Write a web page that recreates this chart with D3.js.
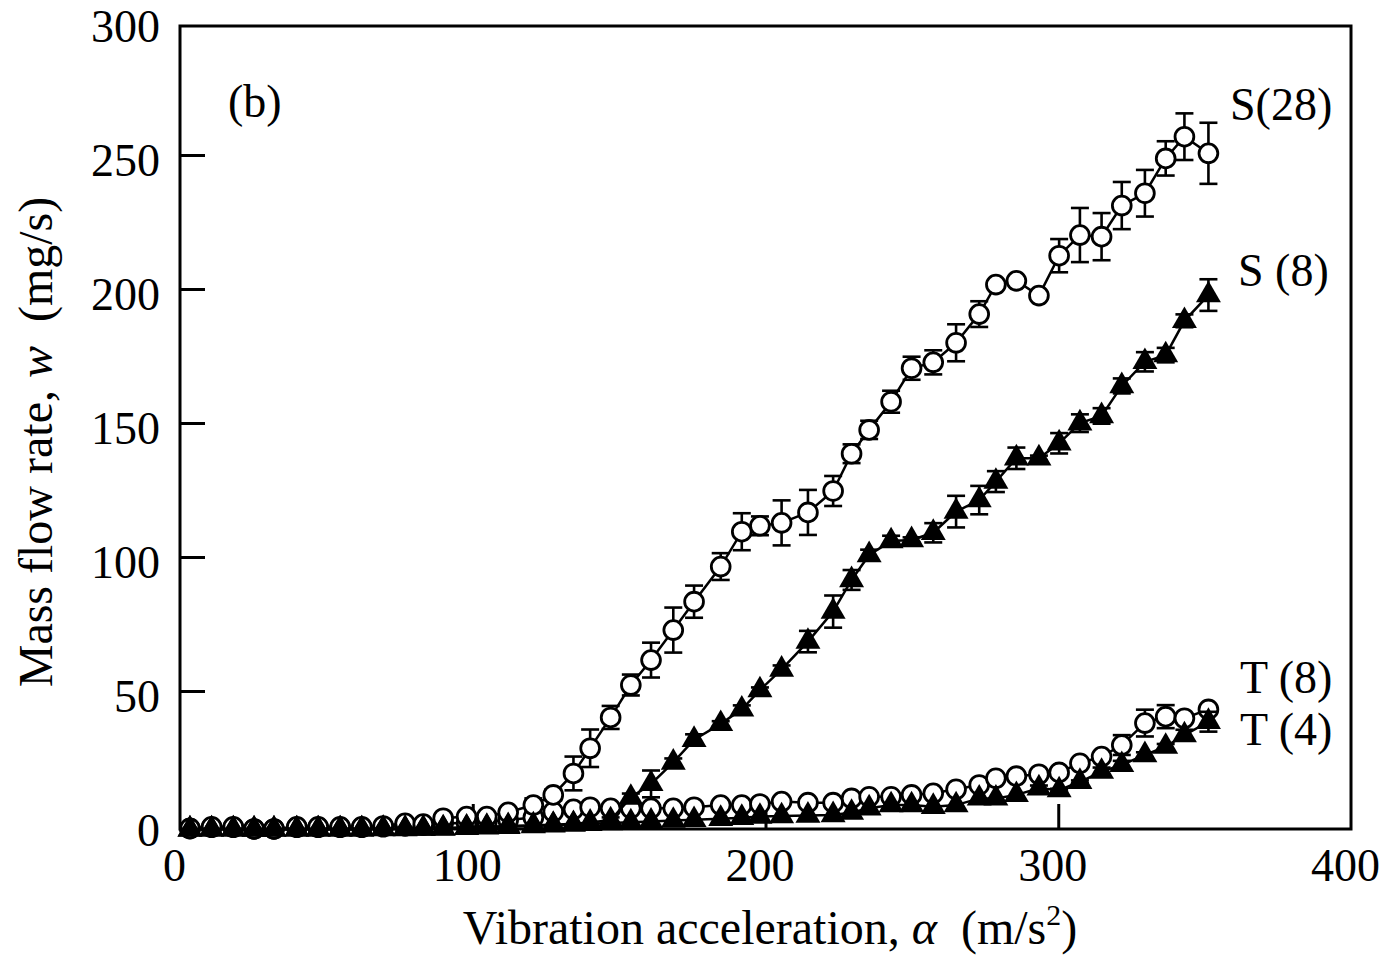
<!DOCTYPE html>
<html><head><meta charset="utf-8">
<script src="https://cdn.jsdelivr.net/npm/d3@7"></script>
<style>body{margin:0;background:#fff}svg text{font-family:"Liberation Serif","Times New Roman",serif;fill:#000}</style>
</head><body><svg id="c" width="1388" height="957"></svg>
<script>
// ---- data ----
const alpha = [3.4,10.8,18.2,25.3,32.1,39.9,47.2,54.7,62.1,69.4,76.9,83.1,89.9,97.9,104.8,112.1,120.7,127.5,134.4,140.1,147.1,154.0,160.9,168.5,175.6,184.7,191.9,198.1,205.5,214.5,223.1,229.4,235.4,242.9,249.9,257.3,265.1,273.0,278.7,285.7,293.4,300.3,307.4,314.8,321.7,329.6,336.7,343.1,351.3];

const s28 = [0.6,1.2,1.2,0.4,0.4,1.2,1.2,1.2,1.2,1.5,2.5,2.2,4.4,5.0,5.0,6.6,9.3,13.1,21.1,30.5,42.0,54.1,63.4,74.6,85.2,98.3,111.3,113.5,114.6,118.5,126.5,140.4,149.3,159.8,172.3,174.5,181.8,192.5,203.5,204.9,199.4,214.3,222.0,221.4,233.0,237.6,250.6,258.7,252.5];
const s28Err = [0,0,0,0,0,0,0,0,0,0,0,0,0,0,0,0,2.5,2,6.3,7,4.3,3.9,6.5,8.4,6,5,6.9,3.5,8.4,8.4,5.6,3.5,3.4,4.1,4.3,4.5,6.9,4.8,0,0,0,6.2,10.1,8.8,8.8,8.7,6.4,8.7,11.4];

const s8 = [0.3,0.3,0.3,0.3,0.3,0.3,0.3,0.3,0.3,0.5,0.5,0.5,0.7,1.0,1.2,1.5,1.8,2.0,2.3,2.8,3.7,12.1,17.2,25.2,33.7,39.6,45.0,52.2,59.9,70.3,81.5,93.3,102.6,107.8,108.2,110.9,118.8,123.1,130.0,138.7,138.7,144.3,151.8,154.5,165.7,174.7,177.2,190.0,199.6];
const s8Err = [0,0,0,0,0,0,0,0,0,0,0,0,0,0,0,0,0,0,0,0,1,1.5,5,1.5,2,1,1.5,1,1.5,4,6,3.7,2,2,1,3.6,5.9,5.3,3.9,4,1,3.8,3.3,2.9,2.8,3.6,2.7,2.4,5.9];

const t8 = [0.5,1.0,1.0,0.4,0.4,1.0,1.0,1.0,1.0,1.2,1.5,1.8,2.6,2.5,3.1,3.7,4.7,6.8,7.7,8.5,8.1,8.1,8.1,8.1,8.5,9.3,9.3,9.7,10.6,10.2,10.2,11.8,12.4,12.4,13.1,13.7,15.2,16.8,19.3,20.1,20.8,21.5,24.9,27.4,31.7,39.9,42.3,41.7,45.0];
const t8Err = [0,0,0,0,0,0,0,0,0,0,0,0,0,0,0,0,0,0,0,0,0,0,0,0,0,0,0,0,0,0,0,0,0,0,0,0,0,0,0,0,0.5,0.5,0.5,1,3.7,5,4.3,1.5,0.5];

const t4 = [0.2,0.3,0.3,0.2,0.2,0.3,0.3,0.3,0.3,0.4,0.4,0.5,0.5,0.8,1.0,1.2,1.5,1.8,2.0,2.3,2.6,2.9,3.2,3.5,3.8,4.2,4.6,5.0,5.2,5.4,5.6,6.5,8.1,9.3,9.3,8.7,9.3,11.8,11.8,13.1,15.6,14.9,18.0,21.8,24.3,28.0,31.1,35.4,40.4];
const t4Err = [0,0,0,0,0,0,0,0,0,0,0,0,0,0,0,0,0,0,0,0,0,0,0,0,0,0,0,0,0,0,0,0,0,0,0,0,0,0,0,0,1,0.5,0.5,1.5,1.5,1,1,2,3.7];

const xTickValues = [0,100,200,300,400];
const yTickValues = [0,50,100,150,200,250,300];
const seriesNames = ["S(28)","S (8)","T (8)","T (4)"];

// ---- drawing ----
const svg = d3.select("#c");
const x = d3.scaleLinear().domain([0,400]).range([180,1351]);
const y = d3.scaleLinear().domain([0,300]).range([830,26]);
const FS = 46, TFS = 48;

// y tick labels
const yAx = svg.append("g").attr("transform","translate(180,0)")
  .call(d3.axisLeft(y).tickValues(yTickValues).tickSize(0).tickPadding(20).tickFormat(d3.format("d")));
yAx.select(".domain").remove();
yAx.selectAll("text").attr("font-size",FS).attr("dy","0.33em").style("font-family",'"Liberation Serif",serif');

// x tick labels
const xAx = svg.append("g").attr("transform","translate(-6,830)")
  .call(d3.axisBottom(x).tickValues(xTickValues).tickSize(0).tickPadding(18).tickFormat(d3.format("d")));
xAx.select(".domain").remove();
xAx.selectAll("text").attr("font-size",FS).attr("dy","0.72em").style("font-family",'"Liberation Serif",serif');

// inward tick marks
const yIn = svg.append("g").attr("transform","translate(180,-5)")
  .call(d3.axisRight(y).tickValues([50,100,150,200,250]).tickSize(25).tickFormat(""));
yIn.select(".domain").remove();
yIn.selectAll("line").attr("stroke","#000").attr("stroke-width",3);
const xIn = svg.append("g").attr("transform","translate(0,829)")
  .call(d3.axisTop(x).tickValues([100,200,300]).tickSize(25).tickFormat(""));
xIn.select(".domain").remove();
xIn.selectAll("line").attr("stroke","#000").attr("stroke-width",3);

// series
const mk = (vals, errs) => alpha.map((a,i)=>({a, v:vals[i], e:errs[i]}));
const S28 = mk(s28,s28Err), S8 = mk(s8,s8Err), T8 = mk(t8,t8Err), T4 = mk(t4,t4Err);
const line = d3.line().x(d=>x(d.a)).y(d=>y(d.v));
const plot = svg.append("g");

function drawLine(data){
  plot.append("path").datum(data).attr("d",line).attr("fill","none").attr("stroke","#000").attr("stroke-width",2.5);
}
function drawErr(data){
  const g = plot.append("g").attr("stroke","#000").attr("stroke-width",2.6);
  data.filter(d=>d.e>0).forEach(d=>{
    const cx = x(d.a), y1 = y(d.v+d.e), y2 = y(d.v-d.e);
    g.append("line").attr("x1",cx).attr("x2",cx).attr("y1",y1).attr("y2",y2);
    g.append("line").attr("x1",cx-9).attr("x2",cx+9).attr("y1",y1).attr("y2",y1);
    g.append("line").attr("x1",cx-9).attr("x2",cx+9).attr("y1",y2).attr("y2",y2);
  });
}
function drawCircles(data){
  plot.append("g").selectAll("circle").data(data).join("circle")
    .attr("cx",d=>x(d.a)).attr("cy",d=>y(d.v)).attr("r",9.4)
    .attr("fill","#fff").attr("stroke","#000").attr("stroke-width",2.8);
}
const tri = d3.symbol().type(d3.symbolTriangle).size(270);
function drawTris(data){
  plot.append("g").selectAll("path").data(data).join("path")
    .attr("transform",d=>`translate(${x(d.a)},${y(d.v)})`).attr("d",tri).attr("fill","#000");
}

drawLine(T8); drawErr(T8); drawCircles(T8);
drawLine(S28); drawErr(S28); drawCircles(S28);
drawLine(T4); drawErr(T4); drawTris(T4);
drawLine(S8); drawErr(S8); drawTris(S8);

// frame
svg.append("rect").attr("x",180).attr("y",26).attr("width",1171).attr("height",803)
  .attr("fill","none").attr("stroke","#000").attr("stroke-width",3);

// annotations
svg.append("text").attr("x",228).attr("y",117).attr("font-size",FS).text("(b)");
const labPos = [[1230,120],[1238,286],[1240,693],[1240,745]];
seriesNames.forEach((s,i)=>svg.append("text").attr("x",labPos[i][0]).attr("y",labPos[i][1]).attr("font-size",FS).text(s));

// axis titles
const xt = svg.append("text").attr("x",770).attr("y",944).attr("text-anchor","middle").attr("font-size",TFS);
xt.append("tspan").text("Vibration acceleration, ");
xt.append("tspan").attr("font-style","italic").text("α");
xt.append("tspan").text("\u00a0 (m/s");
xt.append("tspan").attr("font-size",TFS*0.62).attr("dy",-19).text("2");
xt.append("tspan").attr("dy",19).text(")");

const yt = svg.append("text").attr("transform","translate(52,442) rotate(-90)").attr("text-anchor","middle").attr("font-size",TFS);
yt.append("tspan").text("Mass flow rate, ");
yt.append("tspan").attr("font-style","italic").text("w");
yt.append("tspan").text("\u00a0 (mg/s)");
</script></body></html>
